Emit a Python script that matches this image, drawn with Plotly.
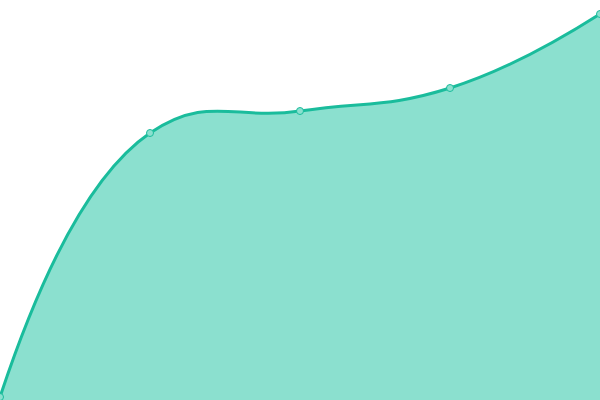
import plotly.graph_objects as go

x_vals = [0, 1, 2, 3, 4]
y_vals = [3, 267, 289, 312, 386]

fig = go.Figure()

fig.add_trace(
    go.Scatter(
        x=x_vals,
        y=y_vals,
        mode="lines+markers",
        line=dict(color="#1abc9c", width=3, shape="spline", smoothing=1.3),
        marker=dict(size=7, color="#8be0cf", line=dict(color="#1abc9c", width=1)),
        fill="tozeroy",
        fillcolor="#8be0cf",
        cliponaxis=False,
    )
)

fig.update_layout(
    width=600,
    height=400,
    margin=dict(l=0, r=0, t=0, b=0),
    plot_bgcolor="white",
    paper_bgcolor="white",
    showlegend=False,
    xaxis=dict(range=[0, 4], visible=False, fixedrange=True),
    yaxis=dict(range=[0, 400], visible=False, fixedrange=True),
)

# drop the page margin so the plot sits flush with the window
fig.write_html(
    "out.html",
    config={"displayModeBar": False},
    post_script="document.body.style.margin='0';document.body.style.overflow='hidden';",
)
